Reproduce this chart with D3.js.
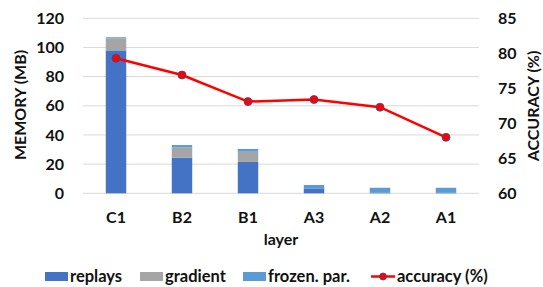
<!DOCTYPE html>
<html><head><meta charset="utf-8">
<script src="https://cdn.jsdelivr.net/npm/d3@7"></script>
<style>
body{margin:0;background:#fff;}
text{font-family:Lato,"Open Sans",sans-serif;font-weight:bold;fill:#111;}
</style></head><body>
<svg id="chart" width="543" height="287"></svg>
<script>
const categories = ["C1","B2","B1","A3","A2","A1"];
const replays = [98, 24.5, 21.5, 3.4, 0.3, 0.3];
const gradient = [8.3, 7, 7, 0, 0, 0];
const frozen = [0.7, 1.6, 1.9, 2.3, 3.5, 3.5];
const accuracy = [79.3, 76.9, 73.1, 73.4, 72.3, 68.0];
const leftTicks = [0,20,40,60,80,100,120];
const rightTicks = [60,65,70,75,80,85];
const seriesNames = ["replays","gradient","frozen. par."];
const colors = ["#4472C4","#A5A5A5","#5B9BD5"];

const svg = d3.select("#chart");
const m = {l:83, r:64, t:18.3, b:93.7};
const W = 543, H = 287;
const FS = "16px";
const x = d3.scaleBand().domain(categories).range([m.l, W-m.r]).paddingInner(0.69).paddingOuter(0.345);
const y = d3.scaleLinear().domain([0,120]).range([H-m.b, m.t]);
const y2 = d3.scaleLinear().domain([60,85]).range([H-m.b, m.t]);

// gridlines
svg.append("g").selectAll("line").data(leftTicks).join("line")
  .attr("x1", m.l).attr("x2", W-m.r)
  .attr("y1", d=>y(d)).attr("y2", d=>y(d))
  .attr("stroke","#D9D9D9").attr("stroke-width",1);

// stacked bars
const rows = categories.map((c,i)=>({cat:c, replays:replays[i], gradient:gradient[i], frozen:frozen[i]}));
const stack = d3.stack().keys(["replays","gradient","frozen"])(rows);
svg.append("g").selectAll("g").data(stack).join("g")
  .attr("fill",(d,i)=>colors[i])
  .selectAll("rect").data(d=>d).join("rect")
  .attr("x", d=>x(d.data.cat)).attr("width", x.bandwidth())
  .attr("y", d=>y(d[1])).attr("height", d=>Math.max(0, y(d[0])-y(d[1])));

// left axis
const la = svg.append("g").attr("transform",`translate(${m.l-11},0)`)
  .call(d3.axisLeft(y).tickValues(leftTicks).tickSize(0).tickPadding(8));
la.select(".domain").remove();
la.selectAll("text").style("font-size",FS).attr("fill","#111");
// right axis
const ra = svg.append("g").attr("transform",`translate(${W-m.r+11},0)`)
  .call(d3.axisRight(y2).tickValues(rightTicks).tickSize(0).tickPadding(8));
ra.select(".domain").remove();
ra.selectAll("text").style("font-size",FS).attr("fill","#111");
// x axis
const xa = svg.append("g").attr("transform",`translate(0,${H-m.b})`)
  .call(d3.axisBottom(x).tickSize(0).tickPadding(18.5));
xa.select(".domain").remove();
xa.selectAll("text").style("font-size",FS).attr("fill","#111");

// titles
svg.append("text").attr("transform","translate(26,105) rotate(-90)").attr("text-anchor","middle")
  .style("font-size",FS).text("MEMORY (MB)");
svg.append("text").attr("transform","translate(539,106) rotate(-90)").attr("text-anchor","middle")
  .style("font-size",FS).text("ACCURACY (%)");
svg.append("text").attr("x",(m.l+W-m.r)/2).attr("y",245).attr("text-anchor","middle")
  .style("font-size",FS).text("layer");

// line
const line = d3.line().x((d,i)=>x(categories[i])+x.bandwidth()/2).y(d=>y2(d));
svg.append("path").datum(accuracy).attr("d",line).attr("fill","none")
  .attr("stroke","#FF0000").attr("stroke-width",2.5);
svg.append("g").selectAll("circle").data(accuracy).join("circle")
  .attr("cx",(d,i)=>x(categories[i])+x.bandwidth()/2).attr("cy",d=>y2(d))
  .attr("r",4).attr("fill","#FF0000").attr("stroke","#2F4F8F").attr("stroke-width",0.8);

// legend
const lg = svg.append("g");
const legX = [45,140,243];
seriesNames.forEach((n,i)=>{
  lg.append("rect").attr("x",legX[i]).attr("y",272).attr("width",23).attr("height",9).attr("fill",colors[i]);
  lg.append("text").attr("x",legX[i]+25).attr("y",282).style("font-size","16.5px").text(n);
});
lg.append("line").attr("x1",371).attr("x2",395).attr("y1",276.5).attr("y2",276.5).attr("stroke","#FF0000").attr("stroke-width",2.5);
lg.append("circle").attr("cx",383).attr("cy",276.5).attr("r",3.5).attr("fill","#FF0000").attr("stroke","#2F4F8F").attr("stroke-width",0.8);
lg.append("text").attr("x",397).attr("y",282).style("font-size","16.5px").text("accuracy (%)");
</script></body></html>
